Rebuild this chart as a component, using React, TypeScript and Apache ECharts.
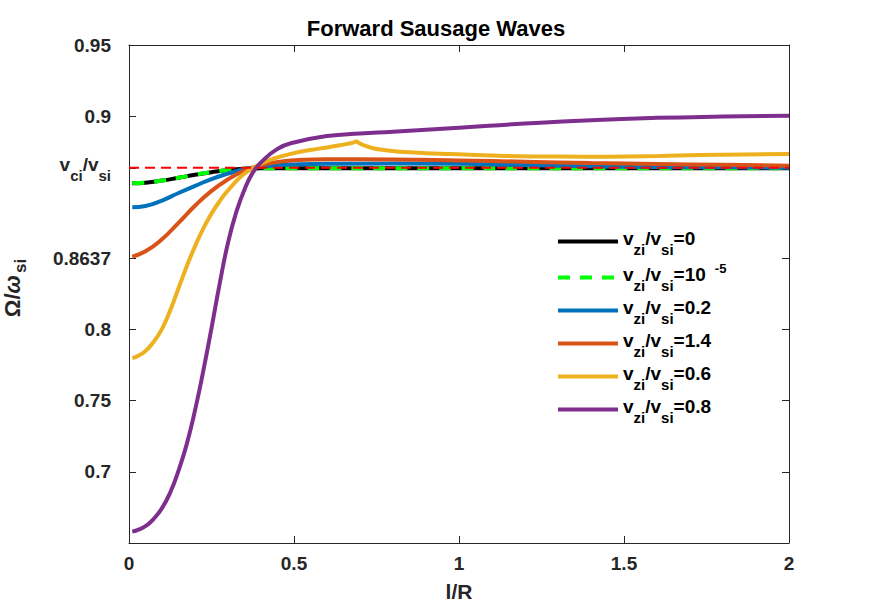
import React, { useEffect, useRef } from "react";
import * as echarts from "echarts";

const FONT = "'Liberation Sans', Arial, Helvetica, sans-serif";
const AXIS_COLOR = "#262626";

// ---- data ----
const baseLengths = [0.01, 0.05, 0.1, 0.15, 0.2, 0.25, 0.3, 0.35, 0.4, 0.45, 0.5, 0.6, 0.8, 1.0, 1.2, 1.4, 1.6, 1.8, 2.0];
const blackValues = [0.8528, 0.8532, 0.8547, 0.8567, 0.8588, 0.8606, 0.8621, 0.863, 0.8633, 0.8634, 0.8634, 0.8634, 0.8634, 0.8634, 0.8634, 0.8634, 0.8634, 0.8634, 0.8634];
const greenValues = [0.8528, 0.8532, 0.8547, 0.8567, 0.8588, 0.8606, 0.8621, 0.863, 0.8633, 0.8634, 0.8634, 0.8634, 0.8634, 0.8634, 0.8634, 0.8634, 0.8634, 0.8634, 0.8634];
const blueValues = [0.836, 0.8369, 0.8407, 0.846, 0.851, 0.8558, 0.8596, 0.8628, 0.8645, 0.8655, 0.866, 0.8665, 0.8668, 0.8665, 0.8656, 0.8648, 0.8643, 0.864, 0.8638];
const orangeValues = [0.8013, 0.805, 0.8135, 0.825, 0.837, 0.8475, 0.8556, 0.8617, 0.8655, 0.8678, 0.869, 0.8697, 0.8695, 0.8688, 0.868, 0.867, 0.8664, 0.8658, 0.8652];

const yellowLengths = [0.01, 0.025, 0.05, 0.075, 0.1, 0.125, 0.15, 0.175, 0.2, 0.225, 0.25, 0.275, 0.3, 0.35, 0.4, 0.45, 0.5, 0.55, 0.6, 0.65, 0.675, 0.69, 0.695, 0.71, 0.74, 0.78, 0.82, 0.9, 0.97, 1.12, 1.3, 1.45, 1.6, 1.73, 2.0];
const yellowValues = [0.7299, 0.7312, 0.735, 0.7415, 0.7505, 0.7635, 0.779, 0.7945, 0.8085, 0.821, 0.8315, 0.8403, 0.8478, 0.8597, 0.8665, 0.871, 0.874, 0.8762, 0.878, 0.88, 0.8811, 0.8821, 0.8813, 0.8797, 0.8774, 0.876, 0.875, 0.874, 0.8734, 0.8722, 0.8716, 0.8715, 0.8719, 0.8727, 0.8734];

const purpleLengths = [0.01, 0.025, 0.05, 0.075, 0.1, 0.125, 0.15, 0.175, 0.2, 0.225, 0.25, 0.275, 0.3, 0.325, 0.35, 0.375, 0.4, 0.45, 0.5, 0.6, 0.7, 0.8, 1.0, 1.2, 1.4, 1.6, 1.8, 2.0];
const purpleValues = [0.608, 0.609, 0.6118, 0.617, 0.6245, 0.6355, 0.6508, 0.6695, 0.6932, 0.7208, 0.751, 0.7825, 0.811, 0.8325, 0.8485, 0.8603, 0.8675, 0.877, 0.8815, 0.886, 0.8878, 0.889, 0.8918, 0.8948, 0.8972, 0.8988, 0.8997, 0.9003];

const vciLengths = [0, 2];
const vciValues = [0.8637, 0.8637];

const yTickValues = [0.65, 0.7, 0.75, 0.8, 0.8637, 0.9, 0.95];
const yTickLabels = ["0.7", "0.75", "0.8", "0.8637", "VCI", "0.9", "0.95"];
const xTickLabels = ["0", "0.5", "1", "1.5", "2"];

const seriesNames = ["s0", "s1e-5", "s0.2", "s1.4", "s0.6", "s0.8"];
const legendLabels = [
  "{m|v}{s|zi}{m|/v}{s|si}{m|=0}",
  "{m|v}{s|zi}{m|/v}{s|si}{m|=10}{p|-5}",
  "{m|v}{s|zi}{m|/v}{s|si}{m|=0.2}",
  "{m|v}{s|zi}{m|/v}{s|si}{m|=1.4}",
  "{m|v}{s|zi}{m|/v}{s|si}{m|=0.6}",
  "{m|v}{s|zi}{m|/v}{s|si}{m|=0.8}",
];

const pairs = (xs: number[], ys: number[]) => xs.map((x, i) => [x, ys[i]]);

const makeRich = (color: string) => ({
  m: { fontSize: 19, fontWeight: "bold", fontFamily: FONT, color, padding: [0, 0, 6, 0] },
  s: { fontSize: 15, fontWeight: "bold", fontFamily: FONT, color, padding: [16, 0, 0, 0] },
  p: { fontSize: 13, fontWeight: "bold", fontFamily: FONT, color, padding: [0, 0, 18, 9] },
});

function buildOption() {
  const lineSeries = (name: string, data: number[][], color: string, extra: any = {}) => ({
    name,
    type: "line",
    data,
    xAxisIndex: 0,
    yAxisIndex: 0,
    showSymbol: false,
    symbol: "none",
    smooth: extra.smooth ?? true,
    lineStyle: { color, width: 4, ...(extra.lineStyle || {}) },
    itemStyle: { color },
    emphasis: { disabled: true },
  });

  return {
    animation: false,
    backgroundColor: "#fff",
    title: {
      text: "Forward Sausage Waves",
      left: "center",
      top: 17,
      padding: 0,
      textStyle: { fontFamily: FONT, fontSize: 22, fontWeight: "bold", color: "#000" },
    },
    grid: { left: 129, right: 83, top: 45, bottom: 68, containLabel: false, outerBoundsMode: "none" },
    legend: {
      data: seriesNames,
      orient: "vertical",
      left: 556,
      top: 229,
      padding: 0,
      itemWidth: 60,
      itemHeight: 14,
      itemGap: 5,
      selectedMode: false,
      itemStyle: { opacity: 0 },
      lineStyle: { width: 4 },
      formatter: (name: string) => legendLabels[seriesNames.indexOf(name)],
      textStyle: { fontFamily: FONT, fontSize: 19, fontWeight: "bold", color: "#000", rich: makeRich("#000") },
    },
    xAxis: [
      {
        type: "value",
        min: 0,
        max: 2,
        interval: 0.5,
        position: "bottom",
        name: "l/R",
        nameLocation: "middle",
        nameGap: 38,
        nameTextStyle: { fontFamily: FONT, fontSize: 21, fontWeight: "bold", color: AXIS_COLOR },
        axisLine: { show: true, onZero: false, lineStyle: { color: AXIS_COLOR, width: 1 } },
        axisTick: { show: true, inside: true, length: 7, lineStyle: { color: AXIS_COLOR } },
        axisLabel: {
          margin: 11,
          fontFamily: FONT,
          fontSize: 19,
          fontWeight: "bold",
          color: AXIS_COLOR,
          formatter: (v: number) => xTickLabels[Math.round(v / 0.5)] ?? "",
        },
        splitLine: { show: false },
      },
      {
        type: "value",
        min: 0,
        max: 2,
        interval: 0.5,
        position: "top",
        axisLine: { show: true, onZero: false, lineStyle: { color: AXIS_COLOR, width: 1 } },
        axisTick: { show: true, inside: true, length: 7, lineStyle: { color: AXIS_COLOR } },
        axisLabel: { show: false },
        splitLine: { show: false },
      },
    ],
    yAxis: [
      {
        type: "value",
        min: 0.6,
        max: 0.95,
        position: "left",
        name: "{n|Ω/}{w|ω}{ns|si}",
        nameLocation: "middle",
        nameRotate: 90,
        nameGap: 100,
        nameTextStyle: {
          padding: [0, 0, 0, 12],
          rich: {
            n: { fontFamily: FONT, fontSize: 22, fontWeight: "bold", color: AXIS_COLOR, padding: [0, 0, 4, 0] },
            w: { fontFamily: FONT, fontSize: 22, fontWeight: "bold", fontStyle: "italic", color: AXIS_COLOR, padding: [0, 0, 4, 0] },
            ns: { fontFamily: FONT, fontSize: 17, fontWeight: "bold", color: AXIS_COLOR, padding: [13, 0, 0, 2] },
          },
        },
        axisLine: { show: true, onZero: false, lineStyle: { color: AXIS_COLOR, width: 1 } },
        axisTick: { show: true, inside: true, length: 7, customValues: yTickValues, lineStyle: { color: AXIS_COLOR } },
        axisLabel: {
          customValues: yTickValues,
          margin: 18,
          fontFamily: FONT,
          fontSize: 19,
          fontWeight: "bold",
          color: AXIS_COLOR,
          rich: makeRich(AXIS_COLOR),
          formatter: (v: number) => {
            const i = yTickValues.findIndex((t) => Math.abs(t - v) < 1e-6);
            const s = i >= 0 ? yTickLabels[i] : "";
            return s === "VCI" ? "{m|v}{s|ci}{m|/v}{s|si}" : s;
          },
        },
        splitLine: { show: false },
      },
      {
        type: "value",
        min: 0.6,
        max: 0.95,
        position: "right",
        axisLine: { show: true, onZero: false, lineStyle: { color: AXIS_COLOR, width: 1 } },
        axisTick: { show: true, inside: true, length: 7, customValues: yTickValues, lineStyle: { color: AXIS_COLOR } },
        axisLabel: { show: false },
        splitLine: { show: false },
      },
    ],
    series: [
      lineSeries(seriesNames[0], pairs(baseLengths, blackValues), "#000000"),
      lineSeries(seriesNames[1], pairs(baseLengths, greenValues), "#00FF00", { lineStyle: { type: [12, 10] } }),
      lineSeries(seriesNames[2], pairs(baseLengths, blueValues), "#0072BD"),
      lineSeries(seriesNames[3], pairs(baseLengths, orangeValues), "#D95319"),
      lineSeries(seriesNames[4], pairs(yellowLengths, yellowValues), "#EDB120"),
      lineSeries(seriesNames[5], pairs(purpleLengths, purpleValues), "#7E2F8E"),
      {
        name: "vci",
        type: "line",
        data: pairs(vciLengths, vciValues),
        showSymbol: false,
        symbol: "none",
        lineStyle: { color: "#FF0000", width: 2, type: [10, 6] },
        itemStyle: { color: "#FF0000" },
        emphasis: { disabled: true },
        z: 3,
      },
    ],
  };
}

export default function App() {
  const ref = useRef<HTMLDivElement>(null);
  useEffect(() => {
    if (!ref.current) return;
    const chart = echarts.init(ref.current, null, { renderer: "svg" });
    chart.setOption(buildOption() as any);
    return () => chart.dispose();
  }, []);
  return (
    <div
      ref={ref}
      style={{ position: "absolute", left: 0, top: 0, width: 872, height: 611, background: "#fff" }}
    />
  );
}
